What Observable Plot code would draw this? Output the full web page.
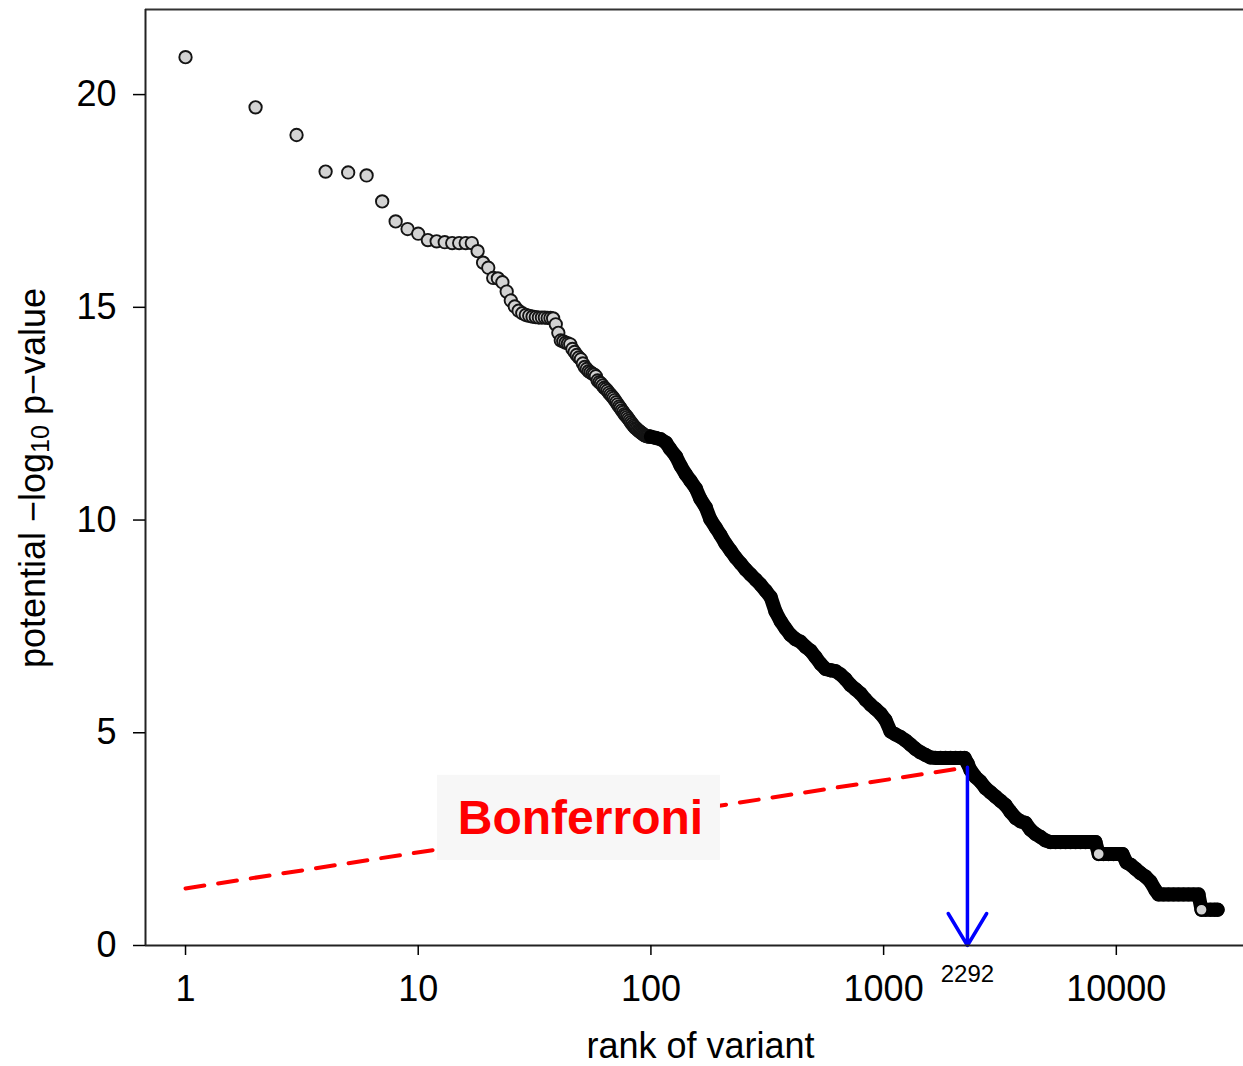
<!DOCTYPE html>
<html>
<head>
<meta charset="utf-8">
<script src="https://cdn.jsdelivr.net/npm/d3@7"></script>
<script src="https://cdn.jsdelivr.net/npm/@observablehq/plot@0.6"></script>
<style>
  html, body { margin: 0; padding: 0; background: #fff; }
  #chart { width: 1243px; height: 1066px; overflow: hidden; }
</style>
</head>
<body>
<div id="chart"></div>
<script>
// ---- data ----
const ranks = [
  1, 2, 3, 4, 5, 6, 7, 8, 9, 10,
  11, 12, 13, 14, 15, 16, 17, 18, 19, 20,
  21, 22, 23, 24, 25, 26, 27, 28, 29, 30,
  31, 32, 33, 34, 35, 36, 37, 38, 39, 40,
  41, 42, 43, 44, 45, 46, 47, 48, 49, 50,
  51, 52, 53, 54, 55, 56, 57, 58, 59, 60,
  61, 62, 63, 64, 65, 66, 67, 68, 69, 70,
  71, 72, 73, 74, 75, 76, 77, 78, 79, 80,
  81, 82, 83, 84, 85, 86, 87, 88, 89, 90,
  91, 92, 93, 94, 95, 96, 97, 98, 99,
  100, 105, 110, 116, 121, 128, 134, 141, 148, 156, 163, 172, 180, 190, 199,
  209, 220, 231, 243, 255, 268, 282, 296, 311, 327, 343, 361, 379, 398,
  418, 439, 462, 485, 510, 536, 563, 591, 621, 653, 686, 721, 758, 796,
  836, 879, 923, 970, 1019, 1071, 1125, 1182, 1242, 1305, 1371, 1441, 1514,
  1591, 1671, 1756, 1845, 1939, 2037, 2141, 2227,
  2294, 2363, 2483, 2609, 2741, 2880, 3026, 3180, 3341, 3510, 3688, 3876,
  4072, 4279, 4496, 4724, 4963, 5214, 5479, 5757, 6049, 6356, 6678, 7017,
  7372, 7746, 8139, 8400, 8810, 9260, 9730, 10220, 10630, 11060, 11508,
  12092, 12705, 13350, 14027, 14738, 15180, 15950, 16760, 17610, 18500,
  19440, 20430, 21460, 22550, 23230, 24170, 25395, 26420, 27250
];
const logP = [
  20.88, 19.70, 19.05, 18.19, 18.17, 18.10, 17.49, 17.02, 16.84, 16.73,
  16.58, 16.55, 16.53, 16.51, 16.51, 16.51, 16.51, 16.32, 16.05, 15.93,
  15.69, 15.68, 15.59, 15.37, 15.16, 15.02, 14.92, 14.86, 14.82, 14.80,
  14.78, 14.77, 14.76, 14.76, 14.76, 14.75, 14.75, 14.74, 14.60, 14.40,
  14.22, 14.20, 14.17, 14.15, 14.13, 14.02, 13.95, 13.88, 13.82, 13.78,
  13.68, 13.60, 13.55, 13.50, 13.47, 13.44, 13.42, 13.38, 13.28, 13.24,
  13.21, 13.16, 13.11, 13.08, 13.04, 12.99, 12.95, 12.91, 12.87, 12.82,
  12.77, 12.72, 12.67, 12.63, 12.58, 12.54, 12.49, 12.46, 12.42, 12.38,
  12.34, 12.30, 12.26, 12.22, 12.19, 12.16, 12.14, 12.11, 12.09, 12.07,
  12.05, 12.03, 12.01, 11.99, 11.98, 11.97, 11.97, 11.96, 11.96,
  11.96, 11.93, 11.90, 11.82, 11.67, 11.50, 11.28, 11.08, 10.92, 10.74, 10.50, 10.30, 10.02, 9.82, 9.65,
  9.45, 9.28, 9.12, 8.98, 8.84, 8.72, 8.60, 8.48, 8.34, 8.19, 7.85, 7.62, 7.45, 7.30,
  7.20, 7.14, 7.02, 6.93, 6.78, 6.62, 6.50, 6.47, 6.45, 6.37, 6.26, 6.12, 6.02, 5.92,
  5.78, 5.66, 5.56, 5.45, 5.30, 5.03, 4.96, 4.90, 4.82, 4.72, 4.62, 4.54, 4.48,
  4.42, 4.41, 4.41, 4.41, 4.41, 4.41, 4.41, 4.41,
  4.28, 4.12, 3.96, 3.85, 3.70, 3.60, 3.50, 3.40, 3.30, 3.14, 3.00, 2.92,
  2.88, 2.72, 2.62, 2.55, 2.47, 2.43, 2.43, 2.43, 2.43, 2.43, 2.43, 2.43,
  2.43, 2.43, 2.43, 2.15, 2.15, 2.15, 2.15, 2.15, 2.15, 1.95, 1.90,
  1.80, 1.70, 1.62, 1.50, 1.30, 1.20, 1.20, 1.20, 1.20, 1.20,
  1.20, 1.20, 1.20, 1.20, 0.84, 0.84, 0.84, 0.84, 0.84
];
const bonfRanks = [1, 2292];
const bonfValues = [1.34, 4.19];
const cutRank = 2292;
const cutValue = 4.19;
const xTicks = [1, 10, 100, 1000, 10000];
const yTicks = [0, 5, 10, 15, 20];
const xDomain = [0.673, 35200];
const yDomain = [0, 22];

// ---- build table ----
const pts = ranks.map((r, i) => ({rank: r, value: logP[i]}));
const dense = pts.filter(d => d.rank >= 100);
// first point of each plateau after a drop (its fill stays visible in the dense band)
const stepStarts = pts.filter((d, i) => i > 0 && d.rank > 2300 && i < pts.length - 1 &&
  pts[i - 1].value - d.value > 0.2 && pts[i + 1].value === d.value);
const bonf = bonfRanks.map((r, i) => ({rank: r, value: bonfValues[i]}));

const font = "'Liberation Sans', Arial, Helvetica, sans-serif";

const svg = Plot.plot({
  width: 1243,
  height: 1066,
  marginLeft: 145,
  marginRight: 0,
  marginTop: 9,
  marginBottom: 121,
  style: {fontFamily: font, background: "#fff", color: "#000", overflow: "visible"},
  x: {type: "log", domain: xDomain},
  y: {domain: yDomain},
  marks: [
    // bonferroni line
    Plot.line(bonf, {x: "rank", y: "value", stroke: "#ff0000", strokeWidth: 4, strokeDasharray: "19,14"}),
    // label box
    Plot.rect([0], {x1: () => 12.1, x2: () => 199, y1: () => 2.0, y2: () => 4.0, fill: "#f7f7f7"}),
    Plot.text(["Bonferroni"], {x: () => 49.8, y: () => 2.98, text: d => d, fill: "#ff0000", fontSize: 48, fontWeight: "bold", fontFamily: font}),
    // points
    Plot.dot(pts, {x: "rank", y: "value", r: 6.2, fill: "#d3d3d3", stroke: "#141414", strokeWidth: 1.9}),
    Plot.line(dense, {x: "rank", y: "value", stroke: "#000", strokeWidth: 14, strokeLinecap: "round", strokeLinejoin: "round"}),
    Plot.dot(stepStarts, {x: "rank", y: "value", r: 5.8, fill: "#d3d3d3", stroke: "#000", strokeWidth: 1.9}),
    // arrow
    Plot.arrow([{x: cutRank, y1: cutValue, y2: 0}], {x1: "x", x2: "x", y1: "y1", y2: "y2", stroke: "#0000ff", strokeWidth: 3.5, headLength: 16, headAngle: 62}),
    // frame lines
    Plot.ruleY([0], {stroke: "#222", strokeWidth: 2}),
    Plot.ruleY([yDomain[1]], {stroke: "#333", strokeWidth: 2}),
    Plot.ruleX([xDomain[0]], {stroke: "#222", strokeWidth: 2}),
    // axes
    Plot.axisX({ticks: xTicks, tickFormat: d3.format("d"), tickSize: 10, tickPadding: 20, fontSize: 36, strokeWidth: 1.5, label: null, fontFamily: font}),
    Plot.axisY({ticks: yTicks, tickSize: 12, tickPadding: 17, fontSize: 36, strokeWidth: 1.5, label: null, fontFamily: font}),
    Plot.text([cutRank], {x: d => d, frameAnchor: "bottom", dy: 36, text: d => String(d), fontSize: 24, fontFamily: font}),
    Plot.text(["rank of variant"], {frameAnchor: "bottom", dy: 112, dx: 6, text: d => d, fontSize: 36, fontFamily: font})
  ]
});

// y-axis title with subscript
const t = d3.select(svg).append("text")
  .attr("transform", "translate(32,478) rotate(-90)")
  .attr("text-anchor", "middle")
  .attr("dominant-baseline", "central")
  .attr("font-family", font)
  .attr("font-size", 36)
  .attr("fill", "#000");
t.append("tspan").text("potential \u2212log");
t.append("tspan").attr("font-size", 25).attr("dy", 8).text("10");
t.append("tspan").attr("dy", -8).text(" p\u2212value");

document.getElementById("chart").appendChild(svg);
</script>
</body>
</html>
